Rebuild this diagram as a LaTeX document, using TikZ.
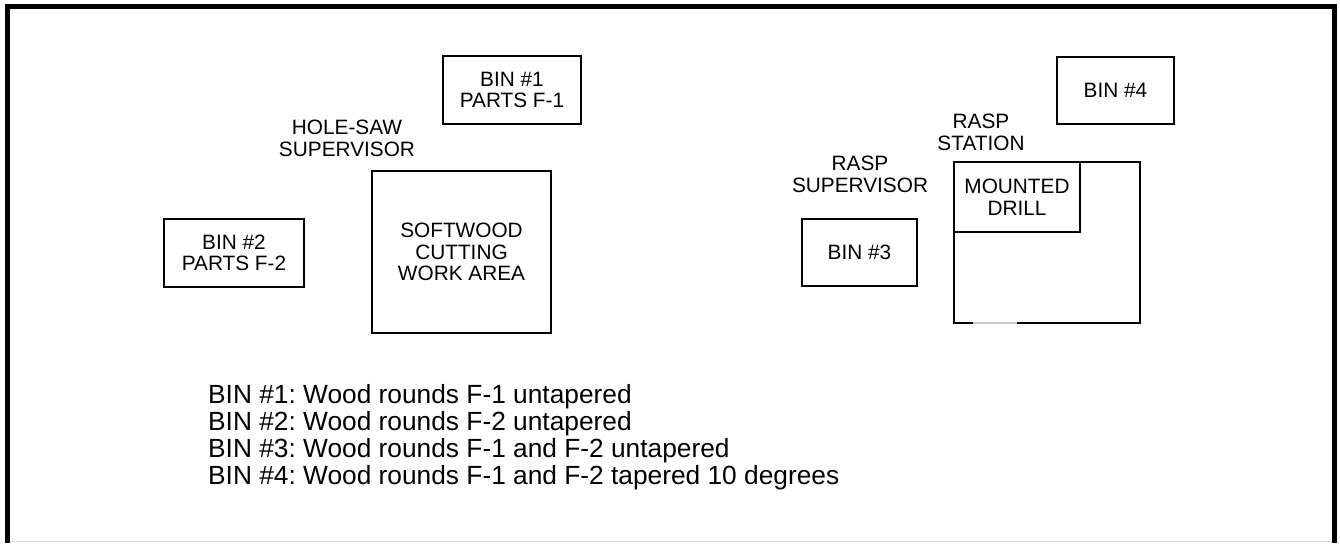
\documentclass[tikz,border=0pt]{standalone}
\usepackage{fontspec}
\setmainfont{Liberation Sans}
\frenchspacing
\begin{document}
\begin{tikzpicture}[x=1pt,y=-1pt,
  box/.style={draw, line width=1.5pt, inner sep=0pt, align=center, font=\fontsize{20.8}{21.5}\selectfont},
  lbl/.style={inner sep=0pt, align=center, font=\fontsize{20.8}{22}\selectfont},
  legend/.style={inner sep=0pt, anchor=base west, font=\fontsize{26.3}{27}\selectfont\frenchspacing},
  frameline/.style={line width=5pt, line join=miter}]
\useasboundingbox (0,0) rectangle (1340,543);
% frame
\coordinate (fbl) at (7.5,543);
\coordinate (ftl) at (7.5,6.5);
\coordinate (ftr) at (1334.5,6.5);
\coordinate (fbr) at (1334.5,543);
\draw[frameline] (fbl) -- (ftl) -- (ftr) -- (fbr);
\coordinate (gl) at (10,541.5);
\coordinate (gr) at (1332,541.5);
\draw[black!15, line width=1.5pt] (gl) -- (gr);
% boxes
\node[box, minimum width=138pt, minimum height=68pt] (bin1) at (512,90) {BIN \#1\\PARTS F-1};
\node[box, minimum width=140pt, minimum height=68pt] (bin2) at (234,253) {BIN \#2\\PARTS F-2};
\node[box, minimum width=179pt, minimum height=162pt] (soft) at (461.5,252) {SOFTWOOD\\CUTTING\\WORK AREA};
\node[box, minimum width=115pt, minimum height=67pt] (bin3) at (859.5,252.5) {BIN \#3};
\node[box, minimum width=117pt, minimum height=67pt] (bin4) at (1115.5,90.5) {BIN \#4};
\node[box, minimum width=186pt, minimum height=161pt] (station) at (1047,242.5) {};
\node[box, minimum width=126pt, minimum height=70pt] (drill) at (1017,197) {MOUNTED\\DRILL};
\coordinate (ga) at (973,323);
\coordinate (gb) at (1017,323);
\draw[black!20, line width=1.6pt] (ga) -- (gb);
% labels
\node[lbl] (holesaw) at (347,138) {HOLE-SAW\\SUPERVISOR};
\node[lbl] (raspsup) at (860,174) {RASP\\SUPERVISOR};
\node[lbl] (raspst) at (981,132) {RASP\\STATION};
% legend
\node[legend] (l1) at (208,403) {BIN \#1: Wood rounds F-1 untapered};
\node[legend] (l2) at (208,430) {BIN \#2: Wood rounds F-2 untapered};
\node[legend] (l3) at (208,457) {BIN \#3: Wood rounds F-1 and F-2 untapered};
\node[legend] (l4) at (208,484) {BIN \#4: Wood rounds F-1 and F-2 tapered 10 degrees};
\end{tikzpicture}
\end{document}
